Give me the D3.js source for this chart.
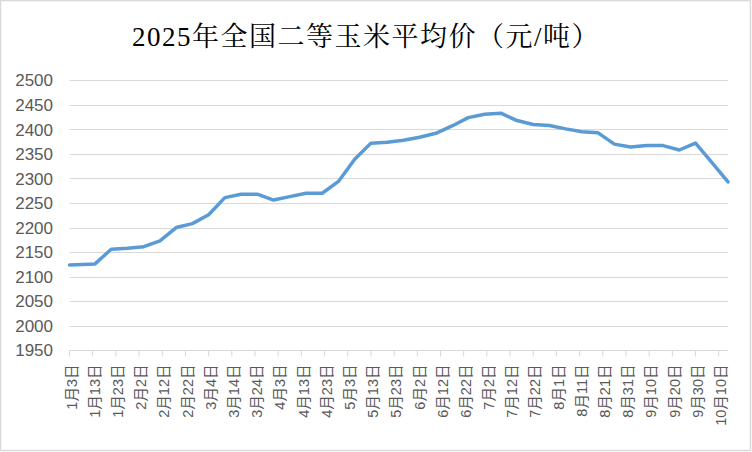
<!DOCTYPE html>
<html>
<head>
<meta charset="utf-8">
<script src="https://cdn.jsdelivr.net/npm/d3@7"></script>
<style>
html,body{margin:0;padding:0;background:#fff;}
</style>
</head>
<body>
<svg id="chart" width="752" height="452"></svg>
<script>
const title = "2025年全国二等玉米平均价（元/吨）";
const dates = ["2025-01-03","2025-01-14","2025-01-21","2025-01-28","2025-02-04","2025-02-11","2025-02-18","2025-02-25",
  "2025-03-04","2025-03-11","2025-03-18","2025-03-25","2025-04-01","2025-04-08","2025-04-15","2025-04-22","2025-04-29",
  "2025-05-06","2025-05-13","2025-05-20","2025-05-27","2025-06-03","2025-06-10","2025-06-17","2025-06-24",
  "2025-07-01","2025-07-08","2025-07-15","2025-07-22","2025-07-29","2025-08-05","2025-08-12","2025-08-19","2025-08-26",
  "2025-09-02","2025-09-09","2025-09-16","2025-09-23","2025-09-30","2025-10-07","2025-10-14"];
const prices = [2124,2126,2156,2158,2161,2173,2200,2208,
  2226,2261,2268,2268,2256,2263,2270,2270,2294,
  2339,2372,2374,2378,2384,2392,2407,2424,
  2431,2433,2418,2410,2408,2401,2395,2393,2370,
  2364,2367,2367,2358,2372,2333,2293];
const xTickLabels = ["1月3日","1月13日","1月23日","2月2日","2月12日","2月22日","3月4日","3月14日","3月24日",
  "4月3日","4月13日","4月23日","5月3日","5月13日","5月23日","6月2日","6月12日","6月22日","7月2日",
  "7月12日","7月22日","8月1日","8月11日","8月21日","8月31日","9月10日","9月20日","9月30日","10月10日"];
const yTicks = [1950,2000,2050,2100,2150,2200,2250,2300,2350,2400,2450,2500];

const svg = d3.select("#chart");
const parse = d3.timeParse("%Y-%m-%d");
const data = dates.map((d,i)=>({date:parse(d), v:prices[i]}));
const tickDates = xTickLabels.map(s=>{const m=s.match(/(\d+)月(\d+)日/);return new Date(2025,+m[1]-1,+m[2]);});

// border
svg.append("rect").attr("x",0.5).attr("y",0.5).attr("width",750).attr("height",450)
  .attr("fill","#fff").attr("stroke","#d9d9d9").attr("stroke-width",1.5);

const x = d3.scaleTime().domain([data[0].date, data[data.length-1].date]).range([69.5, 728]);
const y = d3.scaleLinear().domain([1950,2500]).range([350.3, 80.3]);

// gridlines
svg.append("g").selectAll("line").data(yTicks).join("line")
  .attr("x1",69.5).attr("x2",728.3)
  .attr("y1",d=>Math.round(y(d))+0.5).attr("y2",d=>Math.round(y(d))+0.5)
  .attr("stroke","#d9d9d9").attr("stroke-width",1);

// y labels
svg.append("g").selectAll("text").data(yTicks).join("text")
  .attr("x",53).attr("y",d=>y(d)).attr("dy","0.36em")
  .attr("text-anchor","end")
  .attr("font-family","'Liberation Sans', Arial, sans-serif").attr("font-size",17)
  .attr("fill","#595959").text(d=>d);

// x axis ticks
const xAxis = d3.axisBottom(x).tickValues(tickDates).tickSize(6).tickFormat((d,i)=>xTickLabels[i]);
const gx = svg.append("g").attr("transform",`translate(0,${Math.round(y(1950))+0.5})`).call(xAxis);
gx.select(".domain").remove();
gx.selectAll(".tick line").attr("stroke","#d9d9d9").attr("transform","translate(-0.5,0)");
gx.selectAll(".tick text")
  .attr("font-family","'Liberation Sans','Noto Sans CJK SC',sans-serif").attr("font-size",14.5)
  .attr("fill","#595959")
  .attr("text-anchor","end")
  .attr("transform","rotate(-90)")
  .attr("x",-14).attr("y",1.5).attr("dy","0.36em");

// line
const line = d3.line().x(d=>x(d.date)).y(d=>y(d.v));
svg.append("path").datum(data).attr("d",line)
  .attr("fill","none").attr("stroke","#5b9bd5").attr("stroke-width",3.5)
  .attr("stroke-linejoin","round").attr("stroke-linecap","round");

// title
svg.append("text").attr("x",366).attr("y",46).attr("text-anchor","middle")
  .attr("font-family","'Liberation Serif','Noto Serif CJK SC','Noto Sans CJK SC',serif")
  .attr("font-size",27).attr("letter-spacing",1.5).attr("fill","#000").text(title);
</script>
</body>
</html>
